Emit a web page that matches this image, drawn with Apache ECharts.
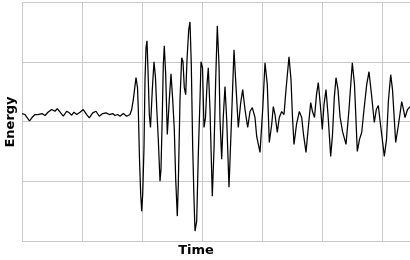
<!DOCTYPE html>
<html>
<head>
<meta charset="utf-8">
<script src="https://cdn.jsdelivr.net/npm/echarts@6/dist/echarts.min.js"></script>
<style>html,body{margin:0;padding:0;background:#fff}#c{width:410px;height:260px}</style>
</head>
<body>
<div id="c"></div>
<script>
var times = [0,3,5,7.5,10,13,16,20,23,26,29.7,33,35.3,38.7,41.3,44.7,47.3,49.7,52,54.7,58,61.3,64.7,67.3,70.7,74,77.3,80.7,84,87.3,90.7,93,95.7,98,101.3,104.7,108,109.7,111.3,114,
115.5,116.3,117.5,118.7,119.7,120.7,122,123,124,125,126.3,127.3,128.5,130.3,132,133.5,134.7,136.3,138,139,140.3,141.3,142.3,143.7,145.3,147.3,149,150.7,152.3,153.7,155.3,156.3,158,159.7,161,162.3,163.7,165,166.7,168,169.3,170.7,172,173,174.7,176.3,178,179,180.5,182,183.5,185,186.3,188,190.3,192,193.7,195.3,197,198,199.7,201.3,203,204.7,207,209.7,212,214,216.3,218.7,220.7,223,225.7,228,230.3,233,234.7,238,240.7,243,245.3,247.3,249.7,251.3,253,255.3,257.3,259.7,262,264,267,269,270.5,272,274.5,277.3,279.7,281.5,284,286.3,288.7,290.5,292.5,294.5,296.3,298.3,300.3,302,304,306,308.7,310.5,312.3,314,316,318,320.5,324,327,330.3,332.5,335.3,337.5,339.7,342,344.7,347,349.5,352.3,354.3,356.3,358.5,362.3,364.5,366.5,368.7,370.5,373.7,376.5,379.7,381.5,383,385.5,388];
var energy = [8,7,5,0.5,4,7,7,8,6,9.3,12,10.3,13,8.7,5.3,10.3,8.7,6.3,9.3,7,9.3,12,7,3.7,8.7,10.3,5.3,8,8.7,7,8,6,7,5.3,8,5.3,7,12,22,44,
34,12,-38,-73,-90,-73,-26,42,74,81,42,7,-6,32,60,44,14,-18,-60,-48,7,57,76,47,-13,22,48,22,-8,-58,-95,-63,22,64,60,34,27,62,92,100,57,-26,-78,-110,-100,-33,22,60,54,-6,4,37,54,12,-75,-28,42,96,57,2,-38,5,35,2,-66,7,72,35,-6,19,32,12,-6,10,14,4,-15,-31,12,59,37,-21,-3,15,7,-11,4,10,7,32,65,42,4,-23,-3,10,4,-13,-31,-6,19,10,4,27,39,17,-8,17,32,7,-35,-13,24,44,32,5,-10,-23,12,59,37,-30,-18,-11,12,37,50,27,-1,12,16,-3,-35,-18,22,47,32,-21,-3,20,12,4,12,15];
var xTitle = 'Time';
var yTitle = 'Energy';

var pts = times.map(function(t, i){ return [t, energy[i]]; });
var chart = echarts.init(document.getElementById('c'), null, {renderer: 'canvas'});
var gridLine = {show: true, lineStyle: {color: '#c8c8c8', width: 1}};
chart.setOption({
  animation: false,
  grid: {left: 22, top: 2, right: 0, bottom: 19, containLabel: false, outerBoundsMode: 'none'},
  xAxis: {type: 'value', min: 0, max: 388, interval: 60,
    axisLine: {show: false}, axisTick: {show: false}, axisLabel: {show: false}, splitLine: gridLine},
  yAxis: {type: 'value', min: -120, max: 120, interval: 60,
    axisLine: {show: false}, axisTick: {show: false}, axisLabel: {show: false}, splitLine: gridLine},
  graphic: [
    {type: 'text', x: 196, y: 251, style: {text: xTitle, font: 'bold 13px "DejaVu Sans"', fill: '#000', textAlign: 'center', textVerticalAlign: 'middle'}},
    {type: 'text', x: 11, y: 122, rotation: Math.PI / 2, style: {text: yTitle, font: 'bold 13px "DejaVu Sans"', fill: '#000', textAlign: 'center', textVerticalAlign: 'middle'}}
  ],
  series: [{type: 'line', data: pts, showSymbol: false, symbol: 'none', smooth: false,
    lineStyle: {color: '#000', width: 1.25}, clip: true}]
});
</script>
</body>
</html>
